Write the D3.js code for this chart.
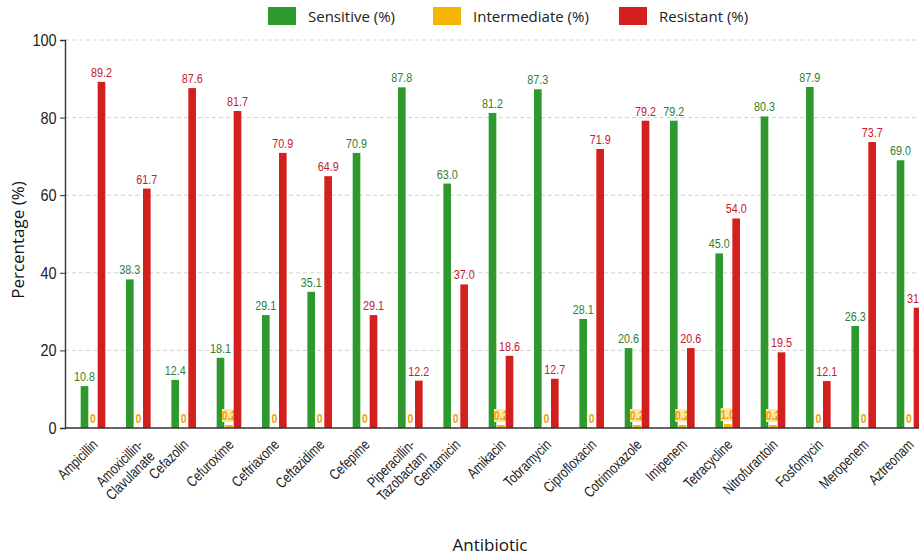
<!DOCTYPE html>
<html lang="en">
<head>
    <meta charset="UTF-8">
    <title>Antibiotic susceptibility</title>
    <style>
      body { margin: 0; background: #fff; }
    </style>
</head>
<body>
  <svg id="svg" width="919" height="556"></svg>

  <script src="https://d3js.org/d3.v7.min.js"></script>
  <script>
    // ------ DATA ------------------------
    const antibiotics = ['Ampicillin', 'Amoxicillin-\nClavulanate', 'Cefazolin', 'Cefuroxime', 'Ceftriaxone',
      'Ceftazidime', 'Cefepime', 'Piperacillin-\nTazobactam', 'Gentamicin', 'Amikacin', 'Tobramycin',
      'Ciprofloxacin', 'Cotrimoxazole', 'Imipenem', 'Tetracycline', 'Nitrofurantoin', 'Fosfomycin',
      'Meropenem', 'Aztreonam']
    const sensitive = [10.8, 38.3, 12.4, 18.1, 29.1, 35.1, 70.9, 87.8, 63.0, 81.2, 87.3, 28.1, 20.6, 79.2, 45.0, 80.3, 87.9, 26.3, 69.0]
    const intermediate = [0, 0, 0, 0.2, 0, 0, 0, 0, 0, 0.2, 0, 0, 0.2, 0.2, 1.0, 0.2, 0, 0, 0]
    const resistant = [89.2, 61.7, 87.6, 81.7, 70.9, 64.9, 29.1, 12.2, 37.0, 18.6, 12.7, 71.9, 79.2, 20.6, 54.0, 19.5, 12.1, 73.7, 31.0]
    const seriesNames = ['Sensitive (%)', 'Intermediate (%)', 'Resistant (%)']
    const yTicks = [0, 20, 40, 60, 80, 100]

    const barColors = ['#2e9a2e', '#f5b400', '#d41f1f']
    const labelColors = ['#2f7f2f', '#f0a000', '#c4202a']

    // CONSTANTS
    const W = 919, H = 556
    const margin = { top: 40, left: 65, bottom: 128 }
    const plotRight = 937 // original plot ran past the right edge of the picture
    const y0 = H - margin.bottom
    const narrow = '"Liberation Sans", Arial, sans-serif'

    const series = [sensitive, intermediate, resistant]

    // ------ SCALES ------------------------
    const xscale = d3.scaleBand()
      .domain(antibiotics)
      .range([margin.left, plotRight])
      .paddingInner(0.457)
      .paddingOuter(0.346)

    const xsub = d3.scaleBand()
      .domain(d3.range(3))
      .range([0, xscale.bandwidth()])
      .paddingInner(0.1)

    const yscale = d3.scaleLinear()
      .domain([0, 100])
      .range([y0, margin.top])

    const svg = d3.select('#svg')

    // ------ GRID ------------------------
    svg.append('g')
      .selectAll('line')
      .data(yTicks.slice(1))
      .enter()
      .append('line')
      .attr('x1', margin.left)
      .attr('x2', W)
      .attr('y1', d => yscale(d))
      .attr('y2', d => yscale(d))
      .attr('stroke', '#d2d2d2')
      .attr('stroke-dasharray', '4,3')

    // ------ BARS ------------------------
    const groups = svg.append('g')
      .selectAll('g')
      .data(antibiotics)
      .enter()
      .append('g')
      .attr('transform', d => `translate(${xscale(d)},0)`)

    groups.each(function (name, i) {
      const g = d3.select(this)
      series.forEach((vals, s) => {
        const v = vals[i]
        let top = yscale(v)
        if (v > 0 && y0 - top < 3) top = y0 - 3 // tiny values still show a sliver
        if (v > 0) {
          g.append('rect')
            .attr('x', xsub(s))
            .attr('y', top)
            .attr('width', xsub.bandwidth())
            .attr('height', y0 - top)
            .attr('fill', barColors[s])
        }
        const cx = xsub(s) + xsub.bandwidth() / 2
        const txt = s === 1 && v === 0 ? '0' : v.toFixed(1)
        if (s === 1 && v > 0) {
          g.append('rect')
            .attr('x', cx - 7)
            .attr('y', top - 16)
            .attr('width', 14)
            .attr('height', 13)
            .attr('fill', '#ffe7a0')
        }
        g.append('text')
          .attr('transform', `translate(${cx},${top - 5}) scale(0.8,1)`)
          .attr('text-anchor', 'middle')
          .attr('font-family', narrow)
          .attr('font-size', s === 1 ? 13 : 13.5)
          .attr('font-weight', s === 1 ? 'bold' : 'normal')
          .attr('fill', labelColors[s])
          .text(txt)
      })
    })

    // ------ AXES ------------------------
    const leftAxis = d3.axisLeft(yscale)
      .tickValues(yTicks)
      .tickSize(5)
      .tickPadding(5)
    const yAxisG = svg.append('g')
      .attr('transform', `translate(${margin.left},0)`)
      .call(leftAxis)
    yAxisG.select('.domain').attr('stroke', '#333').attr('stroke-width', 1.4)
    yAxisG.selectAll('.tick line').attr('stroke', '#333')
    yAxisG.selectAll('.tick text')
      .attr('font-family', narrow)
      .attr('font-size', 17)
      .attr('transform', 'scale(0.85,1)')
      .attr('fill', '#222')

    // x axis line
    svg.append('line')
      .attr('x1', margin.left)
      .attr('x2', W)
      .attr('y1', y0)
      .attr('y2', y0)
      .attr('stroke', '#333')
      .attr('stroke-width', 1.4)

    // x tick labels (rotated)
    const xl = svg.append('g')
      .selectAll('g')
      .data(antibiotics)
      .enter()
      .append('g')
      .attr('transform', d => `translate(${xscale(d) + xscale.bandwidth() / 2 + 2},${y0 + 14}) rotate(-45) scale(0.78,1)`)
    xl.append('text')
      .attr('text-anchor', 'end')
      .attr('font-family', narrow)
      .attr('font-size', 15)
      .attr('fill', '#1a1a1a')
      .each(function (d) {
        const t = d3.select(this)
        d.split('\n').forEach((line, k) => {
          t.append('tspan')
            .attr('x', 0)
            .attr('dy', k === 0 ? '0.35em' : '1.1em')
            .text(line)
        })
      })

    // ------ TITLES ------------------------
    svg.append('text')
      .attr('x', 490)
      .attr('y', 551)
      .attr('text-anchor', 'middle')
      .attr('font-family', '"Open Sans", sans-serif')
      .attr('font-size', 17)
      .attr('font-weight', 500)
      .attr('fill', '#111')
      .text('Antibiotic')

    svg.append('text')
      .attr('transform', `translate(24,240) rotate(-90)`)
      .attr('text-anchor', 'middle')
      .attr('font-family', '"Open Sans", sans-serif')
      .attr('font-size', 17)
      .attr('font-weight', 500)
      .attr('fill', '#111')
      .text('Percentage (%)')

    // ------ LEGEND ------------------------
    const legendX = [268, 433, 619]
    const legend = svg.append('g')
      .selectAll('g')
      .data(seriesNames)
      .enter()
      .append('g')
      .attr('transform', (d, i) => `translate(${legendX[i]},7)`)
    legend.append('rect')
      .attr('width', 28)
      .attr('height', 18)
      .attr('fill', (d, i) => barColors[i])
    legend.append('text')
      .attr('x', 40)
      .attr('y', 14.5)
      .attr('font-family', '"Open Sans", sans-serif')
      .attr('font-size', 15)
      .attr('fill', '#222')
      .text(d => d)
  </script>
</body>
</html>
